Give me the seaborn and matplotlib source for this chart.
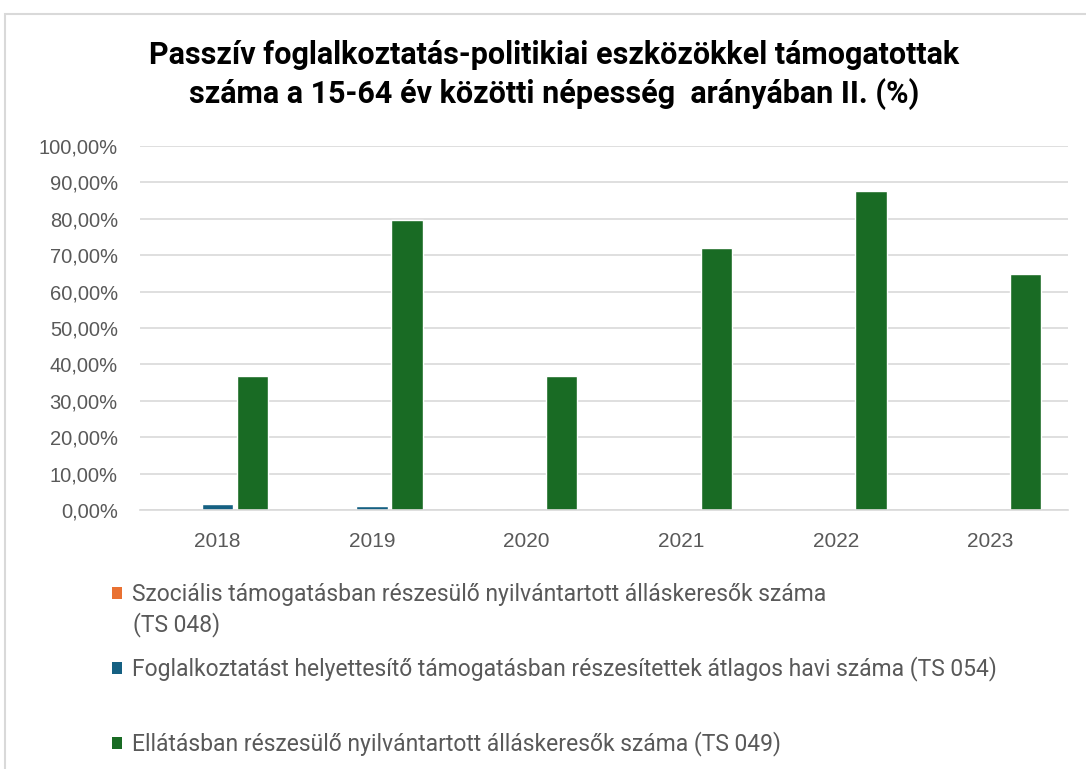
import matplotlib
matplotlib.use("Agg")
import matplotlib.pyplot as plt
from matplotlib.patches import Rectangle, Patch
import seaborn as sns
import pandas as pd

years = ["2018", "2019", "2020", "2021", "2022", "2023"]
series_names = [
    "Szociális támogatásban részesülő nyilvántartott álláskeresők száma",
    "Foglalkoztatást helyettesítő támogatásban részesítettek átlagos havi száma (TS 054)",
    "Ellátásban részesülő nyilvántartott álláskeresők száma (TS 049)",
]
series1_cont = "(TS 048)"
ts048 = [0.0, 0.0, 0.0, 0.0, 0.0, 0.0]
ts054 = [1.6, 1.2, 0.0, 0.0, 0.0, 0.0]
ts049 = [36.7, 79.6, 36.7, 72.1, 87.5, 64.8]
colors = ["#E97132", "#156082", "#196B24"]
yticks = [0, 10, 20, 30, 40, 50, 60, 70, 80, 90, 100]
ytick_labels = [f"{v},00%" for v in yticks]
title = ("Passzív foglalkoztatás-politikiai eszközökkel támogatottak\n"
         "száma a 15-64 év közötti népesség  arányában II. (%)")

sns.set_theme(style="white")
plt.rcParams["font.family"] = ["Roboto", "DejaVu Sans"]

rows = []
for name, vals in zip(series_names, [ts048, ts054, ts049]):
    for y, v in zip(years, vals):
        rows.append({"year": y, "series": name, "value": v})
df = pd.DataFrame(rows)

fig = plt.figure(figsize=(10.86, 7.69), dpi=100)
fig.patch.set_facecolor("white")
ax = fig.add_axes([140 / 1086, 1 - 510 / 769, 928 / 1086, 364 / 769])

sns.barplot(data=df, x="year", y="value", hue="series", hue_order=series_names,
            palette=colors, saturation=1, width=0.68, gap=0.11, edgecolor="white",
            linewidth=1.0, ax=ax, legend=False)

tick_font = ["Liberation Sans", "DejaVu Sans"]
ax.set_ylim(0, 100)
ax.set_xlim(-0.5, 5.5)
ax.set_yticks(yticks)
ax.set_yticklabels(ytick_labels, fontsize=14.5, color="#595959", family=tick_font)
ax.set_xticklabels(years, fontsize=15, color="#595959", family=tick_font)
ax.set_xlabel("")
ax.set_ylabel("")
ax.yaxis.grid(True, color="#d9d9d9", linewidth=1.2)
ax.set_axisbelow(True)
for s in ["top", "right", "left"]:
    ax.spines[s].set_visible(False)
ax.spines["bottom"].set_color("#d9d9d9")
ax.spines["bottom"].set_linewidth(1.2)
ax.tick_params(axis="y", length=0, pad=16)
ax.tick_params(axis="x", which="major", length=0, pad=16)
ax.set_xticks([i - 0.5 for i in range(7)], minor=True)
ax.tick_params(axis="x", which="minor", length=6, color="#d9d9d9", width=1.2)

fig.text(554 / 1086, 1 - 75 / 769, title, ha="center", va="center",
         fontsize=22, fontweight="bold", color="black", linespacing=1.3)

# chart border
fig.patches.append(Rectangle((5 / 1086, -0.05), 1.2, 1 - 14 / 769 + 0.05,
                             transform=fig.transFigure, fill=False,
                             edgecolor="#d9d9d9", linewidth=1.5))

legend_y = [1 - 595 / 769, 1 - 669 / 769, 1 - 744 / 769]
leg_fs = 16.5
for name, col, yy in zip(series_names, colors, legend_y):
    fig.legend(handles=[Patch(facecolor=col, edgecolor="none")], labels=[name],
               loc="center left", bbox_to_anchor=(103 / 1086, yy), frameon=False,
               fontsize=leg_fs, handlelength=0.42, handleheight=0.42, handletextpad=0.45,
               labelcolor="#595959", borderaxespad=0, borderpad=0.4)
fig.text(133 / 1086, 1 - 625 / 769, series1_cont, ha="left", va="center",
         fontsize=leg_fs, color="#595959")

fig.savefig("out.png", dpi=100, facecolor="white")
